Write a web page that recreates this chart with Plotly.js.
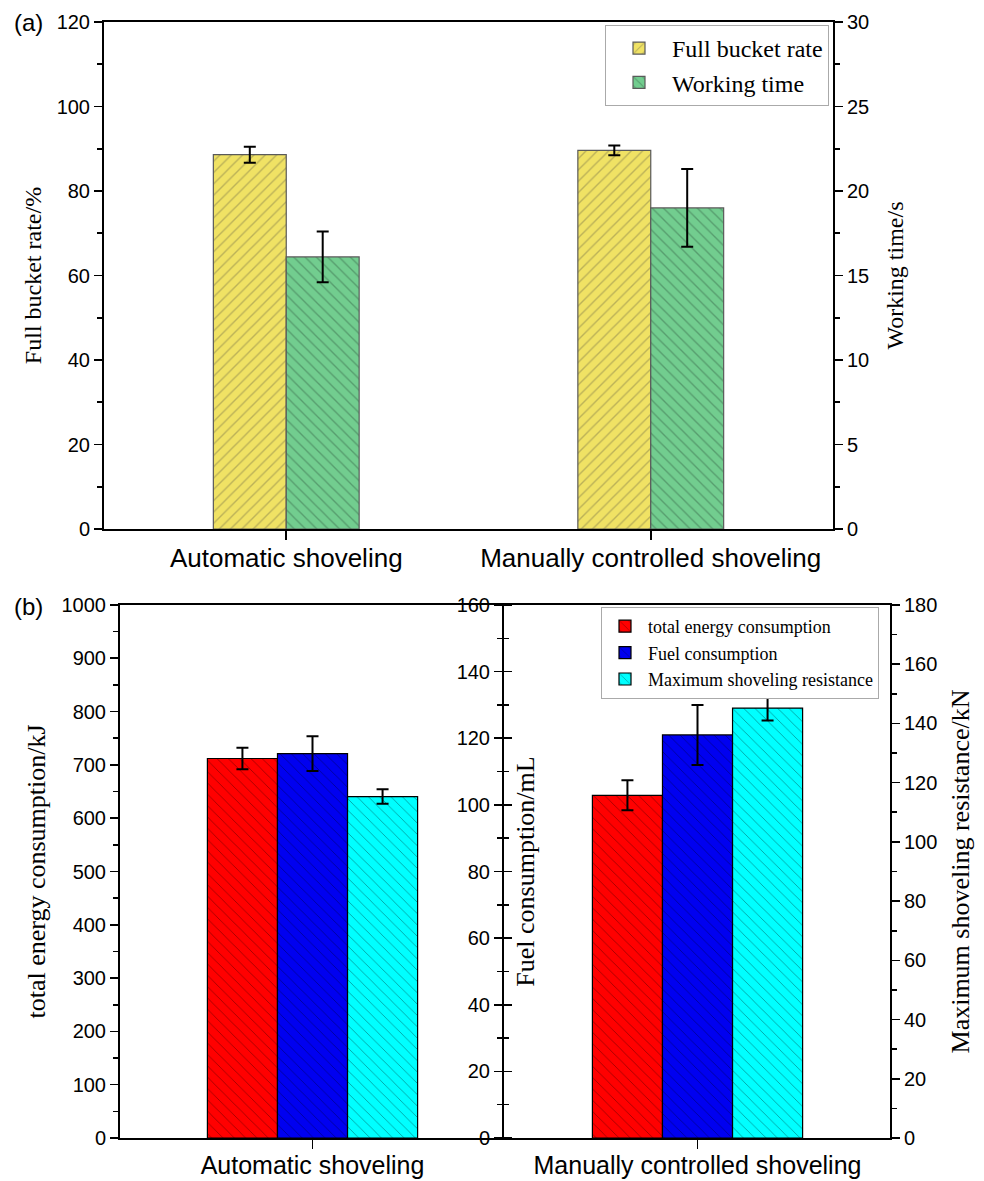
<!DOCTYPE html>
<html>
<head>
<meta charset="utf-8">
<script src="https://cdn.plot.ly/plotly-3.0.1.min.js"></script>
<style>html,body{margin:0;padding:0;background:#fff;}#chart{width:984px;height:1181px;}</style>
</head>
<body>
<div id="chart"></div>
<script>
// ---------- data ----------
const categories = ['Automatic shoveling', 'Manually controlled shoveling'];

// panel (a)
const fullBucketRate = [88.6, 89.6];      // %
const fullBucketRateErr = [1.9, 1.15];
const workingTime = [16.1, 19.0];          // s
const workingTimeErr = [1.5, 2.3];

// panel (b)
const totalEnergy = [712, 643];            // kJ
const totalEnergyErr = [20, 28];
const fuelConsumption = [115.4, 121.0];    // mL
const fuelConsumptionErr = [5.2, 9.0];
const maxResistance = [115.3, 145.2];      // kN
const maxResistanceErr = [2.45, 4.2];

// ---------- styles ----------
const SANS = 'Liberation Sans, Arial, sans-serif';
const SERIF = 'Liberation Serif, Times New Roman, serif';
const W = 984, H = 1181;

function errY(arr, w) {
  return {type: 'data', array: arr, visible: true, color: '#000', thickness: 2, width: w};
}
function pat(shape, fg, sol) {
  return {shape: shape, size: 8, solidity: sol, fgcolor: fg, fillmode: 'overlay'};
}

const barA = 0.2;   // bar width (a)
const barB = 0.182; // bar width (b)

const traces = [
  {
    type: 'bar', name: 'Full bucket rate', x: categories, y: fullBucketRate,
    xaxis: 'x', yaxis: 'y', width: barA, offset: -barA,
    marker: {color: '#F0E264', line: {color: '#5a5a5a', width: 1.2}, pattern: pat('/', '#857f4c', 0.17)},
    error_y: errY(fullBucketRateErr, 6), legend: 'legend'
  },
  {
    type: 'bar', name: 'Working time', x: categories, y: workingTime,
    xaxis: 'x', yaxis: 'y2', width: barA, offset: 0,
    marker: {color: '#72CD8F', line: {color: '#5a5a5a', width: 1.2}, pattern: pat('\\', '#3c6e4e', 0.17)},
    error_y: errY(workingTimeErr, 6), legend: 'legend'
  },
  {
    type: 'bar', name: 'total energy consumption', x: categories, y: totalEnergy,
    xaxis: 'x2', yaxis: 'y3', width: barB, offset: -1.5 * barB,
    marker: {color: '#FF0000', line: {color: '#000', width: 1.2}, pattern: pat('\\', '#300000', 0.1)},
    error_y: errY(totalEnergyErr, 6), legend: 'legend2'
  },
  {
    type: 'bar', name: 'Fuel consumption', x: categories, y: fuelConsumption,
    xaxis: 'x2', yaxis: 'y4', width: barB, offset: -0.5 * barB,
    marker: {color: '#0000F0', line: {color: '#000', width: 1.2}, pattern: pat('\\', '#000030', 0.1)},
    error_y: errY(fuelConsumptionErr, 6), legend: 'legend2'
  },
  {
    type: 'bar', name: 'Maximum shoveling resistance', x: categories, y: maxResistance,
    xaxis: 'x2', yaxis: 'y5', width: barB, offset: 0.5 * barB,
    marker: {color: '#00FFFF', line: {color: '#000', width: 1.2}, pattern: pat('\\', '#003030', 0.1)},
    error_y: errY(maxResistanceErr, 6), legend: 'legend2'
  },
  // empty helper trace so the right-hand tick side of the middle axis is drawn
  {
    type: 'scatter', mode: 'markers', x: categories, y: [null, null],
    xaxis: 'x2', yaxis: 'y6', showlegend: false, hoverinfo: 'skip', marker: {opacity: 0}
  }
];

// domains (paper fractions)
const xDomA = [104 / W, 833 / W];
const yDomA = [1 - 529 / H, 1 - 22 / H];
const xDomB = [120 / W, 890 / W];
const yDomB = [1 - 1138 / H, 1 - 605 / H];
const midPos = 503 / W;

const tickFont = {family: SANS, size: 20, color: '#000'};
const baseY = {
  showgrid: false, zeroline: false, showline: true, linecolor: '#000', linewidth: 2,
  ticks: 'outside', ticklen: 8, tickwidth: 1.6, tickcolor: '#000',
  tickfont: tickFont, fixedrange: true
};
function yAx(extra) { return Object.assign({}, baseY, extra); }
function minorTicks(d) {
  return {dtick: d, ticks: 'outside', ticklen: 5, tickwidth: 1.6, tickcolor: '#000', showgrid: false};
}

const layout = {
  width: W, height: H,
  margin: {l: 0, r: 0, t: 0, b: 0},
  paper_bgcolor: '#fff', plot_bgcolor: 'rgba(0,0,0,0)',
  barmode: 'overlay',
  showlegend: true,
  // ---------- panel (a) ----------
  xaxis: {
    domain: xDomA, anchor: 'y', type: 'category', range: [-0.5, 1.5],
    showgrid: false, zeroline: false, showline: true, linecolor: '#000', linewidth: 2, mirror: true,
    ticks: 'outside', ticklen: 9, tickwidth: 1.6, tickcolor: '#000', ticklabelstandoff: -4,
    tickfont: {family: SANS, size: 26, color: '#000'}, fixedrange: true
  },
  xaxis3: {
    overlaying: 'x', anchor: 'y', type: 'linear', range: [-0.5, 1.5],
    tickmode: 'array', tickvals: [-0.5, 0.5, 1.5], showticklabels: false,
    showgrid: false, zeroline: false, showline: false,
    ticks: 'outside', ticklen: 5, tickwidth: 1.6, tickcolor: '#000'
  },
  yaxis: yAx({
    domain: yDomA, anchor: 'x', range: [0, 120], dtick: 20, minor: minorTicks(10),
    title: {text: 'Full bucket rate/%', font: {family: SERIF, size: 24, color: '#000'}, standoff: 8}
  }),
  yaxis2: yAx({
    overlaying: 'y', anchor: 'x', side: 'right', range: [0, 30], dtick: 5, minor: minorTicks(2.5),
    title: {text: 'Working time/s', font: {family: SERIF, size: 24, color: '#000'}, standoff: 18}
  }),
  // ---------- panel (b) ----------
  xaxis2: {
    domain: xDomB, anchor: 'y3', type: 'category', range: [-0.5, 1.5],
    showgrid: false, zeroline: false, showline: true, linecolor: '#000', linewidth: 2, mirror: true,
    ticks: 'outside', ticklen: 9, tickwidth: 1.6, tickcolor: '#000', ticklabelstandoff: -5,
    tickfont: {family: SANS, size: 25, color: '#000'}, fixedrange: true
  },
  xaxis4: {
    overlaying: 'x2', anchor: 'y3', type: 'linear', range: [-0.5, 1.5],
    tickmode: 'array', tickvals: [-0.5, 0.5, 1.5], showticklabels: false,
    showgrid: false, zeroline: false, showline: false,
    ticks: 'outside', ticklen: 6, tickwidth: 1.6, tickcolor: '#000'
  },
  yaxis3: yAx({
    domain: yDomB, anchor: 'x2', range: [0, 1000], dtick: 100, minor: minorTicks(50),
    title: {text: 'total energy consumption/kJ', font: {family: SERIF, size: 26, color: '#000'}, standoff: 8}
  }),
  yaxis4: yAx({
    overlaying: 'y3', anchor: 'free', position: midPos, side: 'left', range: [0, 160], dtick: 20,
    minor: minorTicks(10)
  }),
  yaxis6: yAx({
    overlaying: 'y3', anchor: 'free', position: midPos, side: 'right', range: [0, 160], dtick: 20,
    showticklabels: false, showline: false, minor: minorTicks(10),
    title: {text: 'Fuel consumption/mL', font: {family: SERIF, size: 26, color: '#000'}, standoff: 4}
  }),
  yaxis5: yAx({
    overlaying: 'y3', anchor: 'x2', side: 'right', range: [0, 180], dtick: 20, minor: minorTicks(10),
    title: {text: 'Maximum shoveling resistance/kN', font: {family: SERIF, size: 26, color: '#000'}, standoff: 14}
  }),
  legend: {
    x: 829 / W, xanchor: 'right', y: 1 - 25 / H, yanchor: 'top',
    bgcolor: '#fff', bordercolor: '#aaa', borderwidth: 1,
    font: {family: SERIF, size: 24, color: '#000'}, tracegroupgap: 0, itemwidth: 56
  },
  legend2: {
    x: 879 / W, xanchor: 'right', y: 1 - 607 / H, yanchor: 'top',
    bgcolor: '#fff', bordercolor: '#aaa', borderwidth: 1,
    font: {family: SERIF, size: 18, color: '#000'}, tracegroupgap: 0, itemwidth: 36
  },
  annotations: [
    {text: '(a)', xref: 'paper', yref: 'paper', x: 12 / W, y: 1 - 22 / H, xanchor: 'left', yanchor: 'middle',
     showarrow: false, font: {family: SANS, size: 24, color: '#000'}},
    {text: '(b)', xref: 'paper', yref: 'paper', x: 12 / W, y: 1 - 606 / H, xanchor: 'left', yanchor: 'middle',
     showarrow: false, font: {family: SANS, size: 24, color: '#000'}}
  ]
};

Plotly.newPlot('chart', traces, layout, {displayModeBar: false, staticPlot: true});
</script>
</body>
</html>
